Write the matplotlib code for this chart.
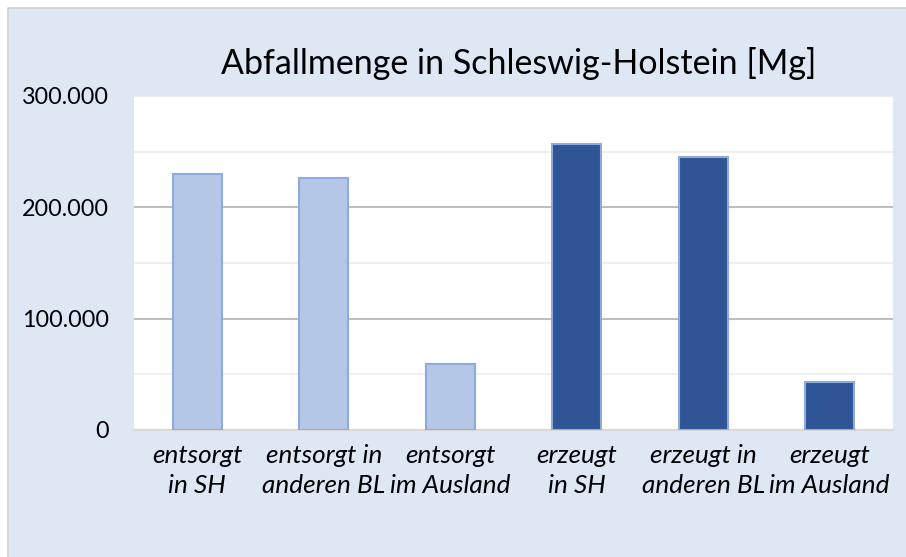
import numpy as np
import matplotlib.pyplot as plt
from matplotlib.lines import Line2D
from matplotlib.patches import Rectangle
from matplotlib.ticker import FuncFormatter, MultipleLocator

# Data
categories = ['entsorgt\nin SH', 'entsorgt in\nanderen BL', 'entsorgt\nim Ausland',
              'erzeugt\nin SH', 'erzeugt in\nanderen BL', 'erzeugt\nim Ausland']
values = [230000, 226000, 59000, 257000, 245000, 43000]
bar_colors = ['#B4C7E7', '#B4C7E7', '#B4C7E7', '#2F5597', '#2F5597', '#2F5597']
title = 'Abfallmenge in Schleswig-Holstein [Mg]'

plt.rcParams['font.family'] = ['Lato', 'DejaVu Sans']

W, H = 906, 557
fig = plt.figure(figsize=(W / 100, H / 100), dpi=100)
fig.patch.set_facecolor('white')

# chart area background, grey border only on top and left (rest is cropped)
x0, y1 = 7.5 / W, 1 - 7.5 / H
fig.patches.append(Rectangle((x0, 0), 1 - x0, y1, transform=fig.transFigure,
                             facecolor='#DEE8F5', edgecolor='none', zorder=-10))
fig.lines.append(Line2D([x0, x0, 1], [0, y1, y1], transform=fig.transFigure,
                        color='#D0D0D0', linewidth=1.2, zorder=-9))

ax = fig.add_axes([134 / W, 1 - 430 / H, (893 - 134) / W, (430 - 96) / H])
ax.set_facecolor('white')

x = np.arange(len(categories))
ax.bar(x, values, width=0.39, color=bar_colors, edgecolor='#8FAADC',
       linewidth=1.5, zorder=3)

ax.set_xlim(-0.5, len(categories) - 0.5)
ax.set_ylim(0, 300000)
ax.yaxis.set_major_locator(MultipleLocator(100000))
ax.yaxis.set_minor_locator(MultipleLocator(50000))
ax.yaxis.set_major_formatter(FuncFormatter(lambda v, p: '0' if v == 0 else f'{int(v):,}'.replace(',', '.')))
ax.grid(axis='y', which='major', color='#BFBFBF', linewidth=1.5, zorder=1)
ax.grid(axis='y', which='minor', color='#F0F0F0', linewidth=1.5, zorder=1)

for s in ['left', 'right']:
    ax.spines[s].set_visible(False)
ax.spines['top'].set_color('#EDEDED')
ax.spines['bottom'].set_color('#D9D9D9')
ax.spines['bottom'].set_linewidth(1.5)

ax.tick_params(axis='y', which='both', length=0, labelsize=16.8, pad=18)
ax.tick_params(axis='x', length=0, pad=10)
ax.set_xticks(x)
ax.set_xticklabels(categories, fontsize=18.8, style='italic', linespacing=1.4)

fig.text(519 / W, 1 - 64 / H, title, ha='center', va='center', fontsize=24.5)

fig.savefig('out.png', dpi=100)
